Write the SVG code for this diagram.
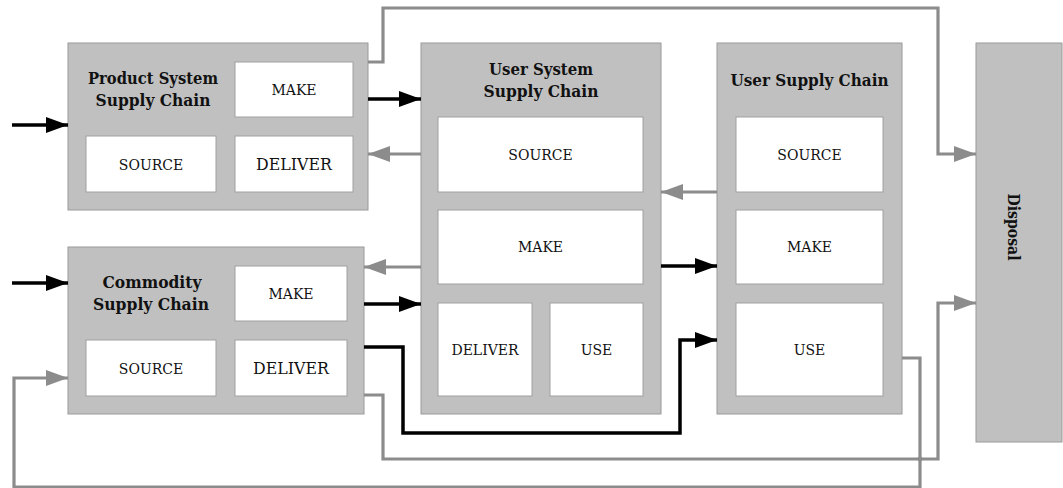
<svg xmlns="http://www.w3.org/2000/svg" width="1063" height="488" viewBox="0 0 1063 488">
<style>
.box{fill:#c0c0c0;stroke:#9a9a9a;stroke-width:1}
.in{fill:#ffffff;stroke:#a0a0a0;stroke-width:1}
.t{font-family:"DejaVu Serif",serif;font-weight:bold;font-size:16.2px;fill:#111;text-anchor:middle}
.l{font-family:"DejaVu Serif",serif;font-size:14px;fill:#111;text-anchor:middle}
.lb{font-family:"DejaVu Serif",serif;font-size:15.8px;fill:#111;text-anchor:middle}
.k{fill:none;stroke:#000;stroke-width:3.5;marker-end:url(#ak)}
.g{fill:none;stroke:#8c8c8c;stroke-width:3.2;marker-end:url(#ag)}
</style>
<defs>
<marker id="ak" markerUnits="userSpaceOnUse" markerWidth="24" markerHeight="18" refX="22" refY="8" orient="auto"><path d="M0,0 L22,8 L0,16 z" fill="#000"/></marker>
<marker id="ag" markerUnits="userSpaceOnUse" markerWidth="24" markerHeight="18" refX="22" refY="8" orient="auto"><path d="M0,0 L22,8 L0,16 z" fill="#8c8c8c"/></marker>
</defs>
<rect width="1063" height="488" fill="#fff"/>

<g id="product">
<rect class="box" x="68" y="43" width="300" height="167"/>
<text class="t" x="153" y="84" textLength="130" lengthAdjust="spacingAndGlyphs">Product System</text>
<text class="t" x="153" y="106" textLength="115" lengthAdjust="spacingAndGlyphs">Supply Chain</text>
<rect class="in" x="235" y="62" width="118" height="55"/>
<text class="l" x="294" y="95">MAKE</text>
<rect class="in" x="86" y="136" width="130" height="56"/>
<text class="l" x="151" y="169.5">SOURCE</text>
<rect class="in" x="235" y="136" width="118" height="56"/>
<text class="lb" x="294" y="170">DELIVER</text>
</g>

<g id="commodity">
<rect class="box" x="68" y="247" width="296" height="167"/>
<text class="t" x="152" y="288" textLength="99" lengthAdjust="spacingAndGlyphs">Commodity</text>
<text class="t" x="151" y="310" textLength="116" lengthAdjust="spacingAndGlyphs">Supply Chain</text>
<rect class="in" x="235" y="266" width="112" height="55"/>
<text class="l" x="291" y="299">MAKE</text>
<rect class="in" x="86" y="340" width="130" height="56"/>
<text class="l" x="151" y="373.5">SOURCE</text>
<rect class="in" x="235" y="340" width="112" height="56"/>
<text class="lb" x="291" y="374">DELIVER</text>
</g>

<g id="user-system">
<rect class="box" x="421" y="43" width="240" height="371"/>
<text class="t" x="541" y="75" textLength="104" lengthAdjust="spacingAndGlyphs">User System</text>
<text class="t" x="541" y="97" textLength="115" lengthAdjust="spacingAndGlyphs">Supply Chain</text>
<rect class="in" x="438" y="117" width="205" height="75"/>
<text class="l" x="540.5" y="159.5">SOURCE</text>
<rect class="in" x="438" y="210" width="205" height="74"/>
<text class="l" x="540.5" y="252">MAKE</text>
<rect class="in" x="438" y="303" width="94" height="93"/>
<text class="l" x="485" y="354.5">DELIVER</text>
<rect class="in" x="550" y="303" width="93" height="93"/>
<text class="l" x="596.5" y="354.5">USE</text>
</g>

<g id="user-supply">
<rect class="box" x="717" y="43" width="185" height="371"/>
<text class="t" x="809.5" y="86" textLength="158" lengthAdjust="spacingAndGlyphs">User Supply Chain</text>
<rect class="in" x="736" y="117" width="147" height="75"/>
<text class="l" x="809.5" y="159.5">SOURCE</text>
<rect class="in" x="736" y="210" width="147" height="74"/>
<text class="l" x="809.5" y="252">MAKE</text>
<rect class="in" x="736" y="303" width="147" height="93"/>
<text class="l" x="809.5" y="354.5">USE</text>
</g>

<g id="disposal">
<rect class="box" x="976" y="43" width="86" height="399"/>
<text class="t" x="1014" y="233" transform="rotate(90 1014 227)" textLength="67" lengthAdjust="spacingAndGlyphs">Disposal</text>
</g>

<g id="connectors">
<path class="k" d="M12,125 H68"/>
<path class="k" d="M12,283 H68"/>
<path class="k" d="M368,99 H421"/>
<path class="k" d="M364,304 H421"/>
<path class="k" d="M661,266 H717"/>
<path class="k" d="M364,347 H403 V433 H680 V340 H717"/>
<path class="g" d="M368,62 H383 V8 H938 V154 H976"/>
<path class="g" d="M421,154 H368"/>
<path class="g" d="M421,267 H364"/>
<path class="g" d="M717,192 H661"/>
<path class="g" d="M364,395 H383 V459 H938 V303 H976"/>
<path class="g" d="M902,358 H920 V487 H14 V378 H68"/>
<circle cx="920" cy="459" r="2.5" fill="#8c8c8c"/>
</g>
</svg>
